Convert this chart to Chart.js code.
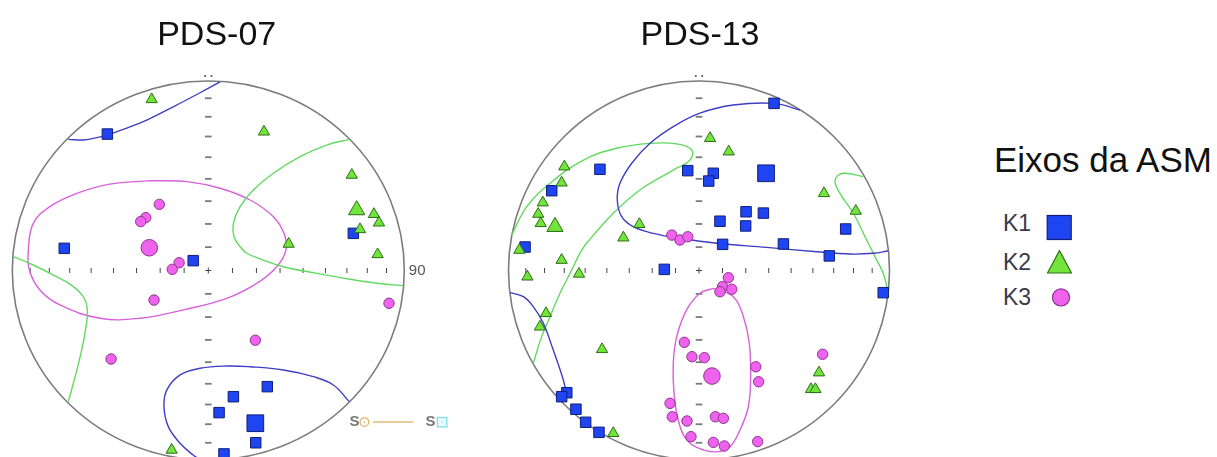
<!DOCTYPE html>
<html>
<head>
<meta charset="utf-8">
<script src="https://cdn.jsdelivr.net/npm/chart.js@4.4.1/dist/chart.umd.min.js"></script>
<style>
  html, body { margin: 0; padding: 0; background: #fff; }
  #wrap { position: relative; width: 1217px; height: 457px; overflow: hidden; font-family: "Liberation Sans", Arial, sans-serif; }
  #wrap canvas { position: absolute; top: 0; }
  .net-title { position: absolute; top: 15.5px; font-size: 34px; line-height: 34px; color: #111; white-space: nowrap; transform: translateX(-50%); }
  #legend-title { position: absolute; left: 994px; top: 141.5px; font-size: 35px; line-height: 35px; color: #111; white-space: nowrap; }
  .legend-label { position: absolute; left: 1003px; font-size: 23px; line-height: 23px; color: #3a3a48; white-space: nowrap; }
  #legend-marks { position: absolute; left: 0; top: 0; }
</style>
</head>
<body>
<div id="wrap"></div>
<script>
// Equal-area (Schmidt) lower-hemisphere projection, unit circle coordinates: x = east, y = north.

// ---- PDS-07 ----
const pds07K1 = [[-0.515,0.720],[-0.735,0.117],[-0.077,0.052],[0.740,0.196],[0.301,-0.613],[0.128,-0.666],[0.055,-0.750],[0.242,-0.909],[0.080,-0.968]];
const pds07K1Mean = [[0.240,-0.806]];
const pds07K2 = [[-0.289,0.903],[0.284,0.732],[0.732,0.504],[0.845,0.297],[0.871,0.252],[0.774,0.217],[0.864,0.085],[0.410,0.140],[-0.187,-0.947]];
const pds07K2Mean = [[0.757,0.319]];
const pds07K3 = [[-0.250,0.349],[-0.319,0.279],[-0.345,0.258],[-0.149,0.041],[-0.184,0.006],[-0.277,-0.156],[0.922,-0.173],[0.240,-0.368],[-0.496,-0.467]];
const pds07K3Mean = [[-0.301,0.120]];

// confidence regions around the mean axes
const pds07K1ConeA = [[0.060,0.995],[-0.042,0.938],[-0.179,0.864],[-0.314,0.794],[-0.434,0.745],[-0.502,0.720],[-0.569,0.701],[-0.638,0.689],[-0.714,0.692]];
const pds07K1ConeB = [[0.719,-0.692],[0.638,-0.604],[0.536,-0.560],[0.383,-0.525],[0.213,-0.508],[0.094,-0.504],[-0.042,-0.516],[-0.144,-0.551],[-0.212,-0.631],[-0.226,-0.719],[-0.204,-0.824],[-0.144,-0.912],[-0.077,-0.974],[-0.040,-0.999]];
const pds07K2ConeA = [[0.719,0.692],[0.604,0.662],[0.468,0.601],[0.332,0.513],[0.230,0.425],[0.162,0.337],[0.128,0.249],[0.131,0.178],[0.162,0.126],[0.196,0.091],[0.281,0.055],[0.383,0.020],[0.553,-0.015],[0.723,-0.046],[0.893,-0.071],[0.995,-0.080]];
const pds07K2ConeB = [[-0.995,0.073],[-0.893,0.029],[-0.791,-0.024],[-0.699,-0.077],[-0.638,-0.138],[-0.617,-0.208],[-0.624,-0.297],[-0.646,-0.420],[-0.680,-0.561],[-0.714,-0.692]];
const pds07K3Cone = [[-0.298,0.474],[-0.110,0.469],[0.060,0.434],[0.213,0.372],[0.332,0.284],[0.386,0.196],[0.396,0.108],[0.349,0.020],[0.247,-0.068],[0.094,-0.147],[-0.128,-0.208],[-0.348,-0.252],[-0.553,-0.252],[-0.757,-0.182],[-0.859,-0.103],[-0.913,0.003],[-0.918,0.108],[-0.893,0.249],[-0.808,0.337],[-0.671,0.407],[-0.502,0.456],[-0.298,0.474]];

// ---- PDS-13 ----
const pds13K1 = [[0.394,0.882],[-0.520,0.534],[-0.059,0.527],[0.075,0.513],[0.051,0.472],[-0.773,0.421],[0.247,0.310],[0.338,0.303],[0.110,0.260],[0.245,0.235],[0.770,0.219],[0.124,0.138],[0.443,0.140],[0.684,0.077],[-0.913,0.124],[-0.182,0.006],[0.967,-0.117],[-0.694,-0.645],[-0.721,-0.666],[-0.646,-0.732],[-0.595,-0.801],[-0.525,-0.854]];
const pds13K1Mean = [[0.352,0.513]];
const pds13K2 = [[0.058,0.698],[0.156,0.627],[-0.707,0.548],[-0.721,0.463],[-0.820,0.358],[-0.844,0.298],[-0.831,0.249],[0.656,0.407],[0.823,0.314],[-0.313,0.244],[-0.397,0.173],[-0.943,0.108],[-0.721,0.055],[-0.901,-0.033],[-0.630,-0.018],[-0.803,-0.226],[-0.835,-0.297],[-0.509,-0.416],[0.630,-0.539],[0.588,-0.627],[0.611,-0.627],[-0.450,-0.859]];
const pds13K2Mean = [[-0.756,0.231]];
const pds13K3 = [[-0.143,0.187],[-0.100,0.161],[-0.059,0.178],[0.154,-0.038],[0.124,-0.085],[0.172,-0.099],[0.110,-0.112],[-0.077,-0.379],[-0.037,-0.455],[0.028,-0.460],[0.298,-0.508],[0.313,-0.587],[0.649,-0.442],[-0.152,-0.701],[-0.140,-0.772],[-0.063,-0.794],[0.086,-0.772],[0.128,-0.780],[-0.042,-0.877],[0.075,-0.907],[0.133,-0.926],[0.308,-0.903]];
const pds13K3Mean = [[0.068,-0.557]];

const pds13K1ConeA = [[0.530,0.847],[0.394,0.882],[0.180,0.873],[0.005,0.830],[-0.135,0.759],[-0.257,0.671],[-0.353,0.566],[-0.415,0.460],[-0.429,0.372],[-0.406,0.284],[-0.345,0.231],[-0.240,0.196],[-0.100,0.170],[0.093,0.144],[0.355,0.122],[0.618,0.099],[0.793,0.087],[0.915,0.091],[0.994,0.104]];
const pds13K1ConeB = [[-0.992,-0.117],[-0.922,-0.138],[-0.870,-0.191],[-0.817,-0.279],[-0.765,-0.420],[-0.712,-0.578],[-0.695,-0.660]];
const pds13K2ConeA = [[-0.983,0.187],[-0.904,0.337],[-0.782,0.460],[-0.607,0.583],[-0.432,0.645],[-0.257,0.671],[-0.117,0.668],[-0.038,0.636],[-0.047,0.583],[-0.135,0.530],[-0.310,0.425],[-0.450,0.302],[-0.590,0.144],[-0.625,0.092],[-0.668,0.003],[-0.730,-0.120],[-0.782,-0.244],[-0.826,-0.349],[-0.870,-0.490]];
const pds13K2ConeB = [[0.862,0.495],[0.757,0.513],[0.714,0.478],[0.740,0.407],[0.810,0.302],[0.880,0.161],[0.933,0.055],[0.967,-0.015],[0.991,-0.103]];
const pds13K3Cone = [[0.075,-0.094],[0.180,-0.138],[0.233,-0.244],[0.264,-0.384],[0.271,-0.560],[0.259,-0.719],[0.215,-0.842],[0.163,-0.930],[0.101,-0.956],[0.023,-0.947],[-0.065,-0.894],[-0.109,-0.789],[-0.131,-0.648],[-0.135,-0.490],[-0.117,-0.349],[-0.065,-0.208],[0.005,-0.120],[0.075,-0.094]];

// axis ticks every 10 degrees from the centre
const tickDegrees = [10, 20, 30, 40, 50, 60, 70, 80];
const edgeLabel = '90';
const seriesLabels = ['K1', 'K2', 'K3'];
const legendTitle = 'Eixos da ASM';
const sampleTitles = ['PDS-07', 'PDS-13'];

// ---- styling ----
const H = 457;
const STYLE = {
  K1: { shape: 'rect',     fill: '#1f45f2', edge: '#101e78', r: 7.4, rMean: 11.8, line: '#3e3ec4' },
  K2: { shape: 'triangle', fill: '#72e43c', edge: '#2b6e14', r: 6.5, rMean: 9.4,  line: '#62da62' },
  K3: { shape: 'circle',   fill: '#ee62ee', edge: '#8d3590', r: 5.2, rMean: 8.3,  line: '#d960d9' }
};

const NETS = [
  { title: sampleTitles[0], titleX: 216.7, canvasLeft: 0,   canvasWidth: 480, cx: 208.3, cy: 270.5, rx: 196.0, ry: 189.5,
    showEdgeLabel: true, showPlaneKey: true,
    pts: { K1: [pds07K1, pds07K1Mean], K2: [pds07K2, pds07K2Mean], K3: [pds07K3, pds07K3Mean] },
    cones: { K1: [pds07K1ConeA, pds07K1ConeB], K2: [pds07K2ConeA, pds07K2ConeB], K3: [pds07K3Cone] } },
  { title: sampleTitles[1], titleX: 700, canvasLeft: 480, canvasWidth: 450, cx: 699.0, cy: 270.5, rx: 190.5, ry: 189.5,
    showEdgeLabel: false, showPlaneKey: false,
    pts: { K1: [pds13K1, pds13K1Mean], K2: [pds13K2, pds13K2Mean], K3: [pds13K3, pds13K3Mean] },
    cones: { K1: [pds13K1ConeA, pds13K1ConeB], K2: [pds13K2ConeA, pds13K2ConeB], K3: [pds13K3Cone] } }
];

const toXY = arr => arr.map(([x, y]) => ({ x, y }));

// primitive circle, axis ticks, centre cross and north mark
const stereonetFrame = {
  id: 'stereonetFrame',
  beforeDatasetsDraw(chart, args, opts) {
    const { ctx } = chart;
    const xs = chart.scales.x, ys = chart.scales.y;
    const cx = xs.getPixelForValue(0), cy = ys.getPixelForValue(0);
    const rx = xs.getPixelForValue(1) - cx, ry = cy - ys.getPixelForValue(1);
    ctx.save();
    ctx.strokeStyle = '#7c7c7c';
    ctx.lineWidth = 1.6;
    ctx.beginPath();
    ctx.ellipse(cx, cy, rx, ry, 0, 0, Math.PI * 2);
    ctx.stroke();

    tickDegrees.forEach(d => {
      const r = Math.SQRT2 * Math.sin(d * Math.PI / 360);
      [1, -1].forEach(s => {
        const px = xs.getPixelForValue(s * r);
        ctx.strokeStyle = '#444'; ctx.lineWidth = 1;
        ctx.beginPath(); ctx.moveTo(px, cy - 2.5); ctx.lineTo(px, cy + 2.5); ctx.stroke();
        const py = ys.getPixelForValue(s * r);
        ctx.strokeStyle = '#7a7a7a'; ctx.lineWidth = 1.8;
        ctx.beginPath(); ctx.moveTo(cx - 3.3, py); ctx.lineTo(cx + 3.3, py); ctx.stroke();
      });
    });
    // centre cross
    ctx.strokeStyle = '#444'; ctx.lineWidth = 1;
    ctx.beginPath();
    ctx.moveTo(cx - 3, cy); ctx.lineTo(cx + 3, cy);
    ctx.moveTo(cx, cy - 3); ctx.lineTo(cx, cy + 3);
    ctx.stroke();
    // north mark
    ctx.fillStyle = '#555';
    const ny = ys.getPixelForValue(1) - 5;
    ctx.beginPath(); ctx.arc(cx - 3.2, ny, 1.1, 0, Math.PI * 2); ctx.fill();
    ctx.beginPath(); ctx.arc(cx + 3.2, ny, 1.1, 0, Math.PI * 2); ctx.fill();

    if (opts.showEdgeLabel) {
      ctx.fillStyle = '#555';
      ctx.font = '15px "Liberation Sans", Arial, sans-serif';
      ctx.textBaseline = 'middle';
      ctx.textAlign = 'left';
      ctx.fillText(edgeLabel, xs.getPixelForValue(1) + 4.5, cy + 0.5);
    }

    if (opts.showPlaneKey) {
      // S (pole) —— S (plane) key below the net
      const kx = xs.getPixelForValue(0.72), ky = ys.getPixelForValue(-0.80);
      ctx.font = 'bold 15px "Liberation Sans", Arial, sans-serif';
      ctx.textBaseline = 'middle';
      ctx.textAlign = 'left';
      ctx.fillStyle = '#777';
      ctx.fillText('S', kx, ky);
      ctx.strokeStyle = '#e2b36a'; ctx.lineWidth = 1.3;
      ctx.beginPath(); ctx.arc(kx + 15, ky, 4.3, 0, Math.PI * 2); ctx.stroke();
      ctx.fillStyle = '#e2b36a';
      ctx.beginPath(); ctx.arc(kx + 15, ky, 0.9, 0, Math.PI * 2); ctx.fill();
      ctx.strokeStyle = '#e8cc9a'; ctx.lineWidth = 2;
      ctx.beginPath(); ctx.moveTo(kx + 23.5, ky); ctx.lineTo(kx + 63.5, ky); ctx.stroke();
      ctx.fillStyle = '#777';
      ctx.fillText('S', kx + 76, ky);
      ctx.fillStyle = '#eefcff';
      ctx.fillRect(kx + 88, ky - 4.6, 9.4, 9.4);
      ctx.strokeStyle = '#7fdcec'; ctx.lineWidth = 1.3;
      ctx.strokeRect(kx + 88, ky - 4.6, 9.4, 9.4);
      ctx.fillStyle = '#7fdcec';
      ctx.fillRect(kx + 92, ky - 0.6, 1.4, 1.4);
    }
    ctx.restore();
  }
};

const wrap = document.getElementById('wrap');

NETS.forEach(net => {
  const canvas = document.createElement('canvas');
  canvas.width = net.canvasWidth;
  canvas.height = H;
  canvas.style.left = net.canvasLeft + 'px';
  canvas.style.width = net.canvasWidth + 'px';
  canvas.style.height = H + 'px';
  wrap.appendChild(canvas);

  const datasets = [];
  seriesLabels.forEach((k, i) => {
    const st = STYLE[k];
    net.cones[k].forEach(c => datasets.push({
      label: k + ' cone', data: toXY(c), showLine: true, tension: 0.4,
      borderColor: st.line, borderWidth: 1.4, pointRadius: 0, fill: false, order: 10, clip: false
    }));
    const [obs, mean] = net.pts[k];
    datasets.push({
      label: k, data: toXY(obs), pointStyle: st.shape, pointRadius: st.r,
      backgroundColor: st.fill, borderColor: st.edge, borderWidth: 1, order: 5 - i, clip: false
    });
    datasets.push({
      label: k + ' mean', data: toXY(mean), pointStyle: st.shape, pointRadius: st.rMean,
      backgroundColor: st.fill, borderColor: st.edge, borderWidth: 1, order: 5 - i, clip: false
    });
  });

  // the net is drawn to scale: one projection unit = rx (ry) pixels
  const xMin = (net.canvasLeft - net.cx) / net.rx;
  const xMax = (net.canvasLeft + net.canvasWidth - net.cx) / net.rx;
  const yMin = (net.cy - H) / net.ry;
  const yMax = net.cy / net.ry;

  new Chart(canvas, {
    type: 'scatter',
    data: { datasets },
    options: {
      responsive: false,
      animation: false,
      devicePixelRatio: 1,
      layout: { padding: 0, autoPadding: false },
      events: [],
      scales: {
        x: { type: 'linear', display: false, bounds: 'data', grace: 0, min: xMin, max: xMax,
             afterBuildTicks: s => { s.min = xMin; s.max = xMax; } },
        y: { type: 'linear', display: false, bounds: 'data', grace: 0, min: yMin, max: yMax,
             afterBuildTicks: s => { s.min = yMin; s.max = yMax; } }
      },
      plugins: {
        legend: { display: false },
        tooltip: { enabled: false },
        stereonetFrame: { showEdgeLabel: net.showEdgeLabel, showPlaneKey: net.showPlaneKey }
      }
    },
    plugins: [stereonetFrame]
  });

  const t = document.createElement('div');
  t.className = 'net-title';
  t.style.left = net.titleX + 'px';
  t.textContent = net.title;
  wrap.appendChild(t);
});

// legend: title, labels and symbols
const lt = document.createElement('div');
lt.id = 'legend-title';
lt.textContent = legendTitle;
wrap.appendChild(lt);

const labelTops = [212.3, 250.6, 285.6];
seriesLabels.forEach((k, i) => {
  const d = document.createElement('div');
  d.className = 'legend-label';
  d.style.top = labelTops[i] + 'px';
  d.textContent = k;
  wrap.appendChild(d);
});

const svgNS = 'http://www.w3.org/2000/svg';
const svg = document.createElementNS(svgNS, 'svg');
svg.setAttribute('id', 'legend-marks');
svg.setAttribute('width', '1217');
svg.setAttribute('height', '457');
const mk = (tag, attrs) => { const e = document.createElementNS(svgNS, tag); Object.entries(attrs).forEach(([a, v]) => e.setAttribute(a, v)); svg.appendChild(e); };
mk('rect', { x: 1047.2, y: 215.5, width: 24, height: 24, fill: STYLE.K1.fill, stroke: STYLE.K1.edge, 'stroke-width': 1.2 });
mk('polygon', { points: '1059.5,250.5 1071.5,273 1047.5,273', fill: STYLE.K2.fill, stroke: STYLE.K2.edge, 'stroke-width': 1.2, 'stroke-linejoin': 'round' });
mk('circle', { cx: 1061, cy: 297.4, r: 8.6, fill: STYLE.K3.fill, stroke: STYLE.K3.edge, 'stroke-width': 1.2 });
wrap.appendChild(svg);
</script>
</body>
</html>
